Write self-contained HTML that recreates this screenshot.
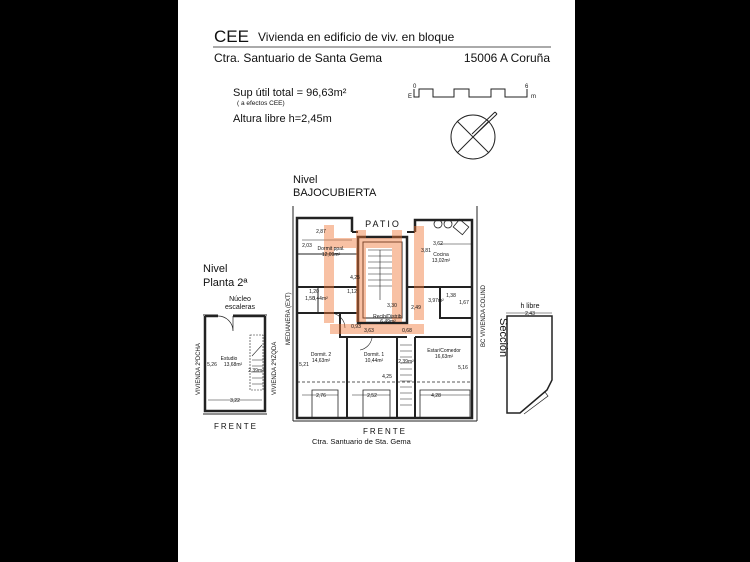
<!DOCTYPE html>
<html><head><meta charset="utf-8"><style>
html,body{margin:0;padding:0;background:#000;width:750px;height:562px;overflow:hidden}
svg{display:block}
text{font-family:"Liberation Sans",sans-serif;fill:#111}
</style></head><body>
<svg width="750" height="562" viewBox="0 0 750 562" xmlns="http://www.w3.org/2000/svg">
<rect x="178" y="0" width="397" height="562" fill="#fff"/>
<text x="214" y="42" font-size="17">CEE</text>
<text x="258" y="41" font-size="12">Vivienda en edificio de viv. en bloque</text>
<line x1="213" y1="47" x2="551" y2="47" stroke="#555" stroke-width="1"/>
<text x="214" y="62" font-size="12">Ctra. Santuario de Santa Gema</text>
<text x="550" y="62" font-size="12" text-anchor="end">15006 A Coruña</text>
<text x="233" y="96" font-size="11">Sup útil total = 96,63m²</text>
<text x="237" y="105" font-size="6.5">( a efectos CEE)</text>
<text x="233" y="122" font-size="11">Altura libre h=2,45m</text>
<g stroke="#222" stroke-width="1" fill="none">
<path d="M414 89 V97 H419 V89 H433 V97 H454 V89 H469 V97 H491 V89 H505 V97 H527 V89"/>
</g>
<text x="408" y="98" font-size="6">E</text>
<text x="413" y="88" font-size="6">0</text>
<text x="525" y="88" font-size="6">6</text>
<text x="531" y="98" font-size="6">m</text>
<g stroke="#222" stroke-width="1" fill="none">
<circle cx="473" cy="137" r="22"/>
<line x1="457" y1="121" x2="489" y2="153"/><line x1="457" y1="153" x2="489" y2="121"/>
<path d="M472 134 L495 112 M474 136 L497 114 M495 112 L497 114"/>
</g>
<text x="293" y="183" font-size="11">Nivel</text>
<text x="293" y="196" font-size="11">BAJOCUBIERTA</text>
<g stroke="#222" fill="none">
<line x1="293" y1="206" x2="293" y2="421" stroke-width="1"/>
<line x1="477" y1="206" x2="477" y2="421" stroke-width="1"/>
<path d="M352 232 V218 H297 V418 H472 V220 H415 V232" stroke-width="2.5"/>
<line x1="293" y1="421" x2="477" y2="421" stroke-width="1"/>
<rect x="358" y="237" width="49" height="86" stroke-width="2.5"/>
<rect x="363" y="242" width="39" height="76" stroke-width="1"/>
<path d="M297 287 H358 M297 313 H358 M407 287 H472 M440 287 V318 H472 M340 313 V337 H407 M347 337 V418 M397 337 V418 M415 337 V418 M415 337 H472 M352 232 H358 M407 232 H415" stroke-width="2"/>
<path d="M297 254 H358 M318 287 V313" stroke-width="1"/>
<path d="M368 250 H392 M368 256 H392 M368 262 H392 M368 268 H392 M368 274 H392 M368 280 H392 M368 286 H392 M380 250 V300 M400 345 H412 M400 351 H412 M400 357 H412 M400 363 H412 M400 369 H412 M400 375 H412 M400 381 H412 M400 387 H412 M400 393 H412 M400 399 H412 M400 405 H412" stroke-width="0.6"/>
<path d="M297 382 H472" stroke-width="0.7" stroke-dasharray="3,2"/>
<path d="M312 418 V390 H338 V418 M363 418 V390 H390 V418 M420 418 V390 H470 V418" stroke-width="0.8"/>
<circle cx="438" cy="224" r="4" stroke-width="0.8"/><circle cx="448" cy="224" r="4" stroke-width="0.8"/>
<rect x="455" y="222" width="12" height="10" stroke-width="0.8" transform="rotate(40 461 227)"/>
<path d="M330 313 A15 15 0 0 1 345 328 M360 350 A15 15 0 0 0 372 338" stroke-width="0.6"/>
<path d="M302 240 H352 M440 244 H472 M302 395 H338 M352 395 H390 M420 395 H470" stroke-width="0.5"/>
</g>
<g fill="#f07838" opacity="0.45">
<rect x="324" y="225" width="10" height="98"/>
<rect x="356" y="230" width="10" height="92"/>
<rect x="392" y="230" width="10" height="92"/>
<rect x="414" y="226" width="10" height="94"/>
<rect x="334" y="238" width="22" height="10"/>
<rect x="366" y="238" width="26" height="10"/>
<rect x="330" y="324" width="94" height="10"/>
</g>
<text x="383" y="227" font-size="9" letter-spacing="2" text-anchor="middle">PATIO</text>
<g font-size="5" text-anchor="middle">
<text x="321" y="233">2,87</text><text x="307" y="247">2,03</text>
<text x="331" y="250">Dormit ppal.</text><text x="331" y="256">12,09m²</text>
<text x="438" y="245">3,62</text><text x="426" y="252">3,81</text>
<text x="441" y="256">Cocina</text><text x="441" y="262">13,02m²</text>
<text x="355" y="279">4,25</text><text x="352" y="293">1,12</text>
<text x="314" y="293">1,20</text><text x="310" y="300">1,50</text><text x="320" y="300">3,44m²</text>
<text x="436" y="302">3,97m²</text><text x="464" y="304">1,67</text><text x="451" y="297">1,38</text>
<text x="392" y="307">3,30</text><text x="416" y="309">2,49</text>
<text x="388" y="318">Recib/Distrib.</text><text x="388" y="323">6,49m²</text>
<text x="356" y="328">0,93</text><text x="369" y="332">3,63</text><text x="407" y="332">0,68</text>
<text x="321" y="356">Dormit. 2</text><text x="321" y="362">14,63m²</text>
<text x="374" y="356">Dormit. 1</text><text x="374" y="362">10,44m²</text>
<text x="444" y="352">Estar/Comedor</text><text x="444" y="358">16,63m²</text>
<text x="304" y="366">5,21</text><text x="406" y="363">2,39m²</text>
<text x="463" y="369">5,16</text><text x="387" y="378">4,25</text>
<text x="321" y="397">2,76</text><text x="372" y="397">2,52</text><text x="436" y="397">4,28</text>
</g>
<text transform="translate(290,345) rotate(-90)" font-size="6">MEDIANERA (EXT)</text>
<text transform="translate(485,347) rotate(-90)" font-size="6">BC VIVIENDA COLIND</text>
<text x="385" y="434" font-size="8" letter-spacing="2" text-anchor="middle">FRENTE</text>
<text x="312" y="444" font-size="7.5">Ctra. Santuario de Sta. Gema</text>
<text x="203" y="272" font-size="11">Nivel</text>
<text x="203" y="286" font-size="11">Planta 2ª</text>
<text x="240" y="301" font-size="7" text-anchor="middle">Núcleo</text>
<text x="240" y="309" font-size="7" text-anchor="middle">escaleras</text>
<g stroke="#222" fill="none">
<path d="M203 315 H218 M233 315 H267" stroke-width="1"/>
<path d="M205 316 H218 M233 316 H265 M205 316 V411 H265 V316" stroke-width="2.5"/>
<path d="M218 316 A15 15 0 0 1 233 331 M233 316 V331" stroke-width="0.7"/>
<path d="M250 335 H263 V390 H250 Z" stroke-width="0.6" stroke-dasharray="2,1"/>
<path d="M252 360 H263 M252 366 H263 M252 372 H263 M252 378 H263 M252 384 H263 M252 356 L262 345" stroke-width="0.6"/>
<path d="M208 400 H262" stroke-width="0.5"/>
<path d="M203 414 H267" stroke-width="1"/>
</g>
<g font-size="5" text-anchor="middle">
<text x="229" y="360">Estudio</text><text x="233" y="366">13,68m²</text>
<text x="212" y="366">5,26</text><text x="256" y="372">2,39m²</text><text x="235" y="402">3,22</text>
</g>
<text transform="translate(200,395) rotate(-90)" font-size="6">VIVIENDA 2ºDCHA</text>
<text transform="translate(276,395) rotate(-90)" font-size="6">VIVIENDA 2ºIZQDA</text>
<text x="236" y="429" font-size="8" letter-spacing="2" text-anchor="middle">FRENTE</text>
<text x="530" y="308" font-size="7" text-anchor="middle">h libre</text>
<text x="530" y="315" font-size="5" text-anchor="middle">2,43</text>
<line x1="506" y1="313" x2="552" y2="313" stroke="#222" stroke-width="0.5"/>
<path d="M507 316 H552 V380 L547 390 L520 413 H507 Z" fill="none" stroke="#222" stroke-width="1.5"/>
<path d="M520 413 L545 392 L548 396 L524 414" fill="none" stroke="#222" stroke-width="0.7"/>
<text transform="translate(500,318) rotate(90)" font-size="11">Sección</text>
</svg>
</body></html>
